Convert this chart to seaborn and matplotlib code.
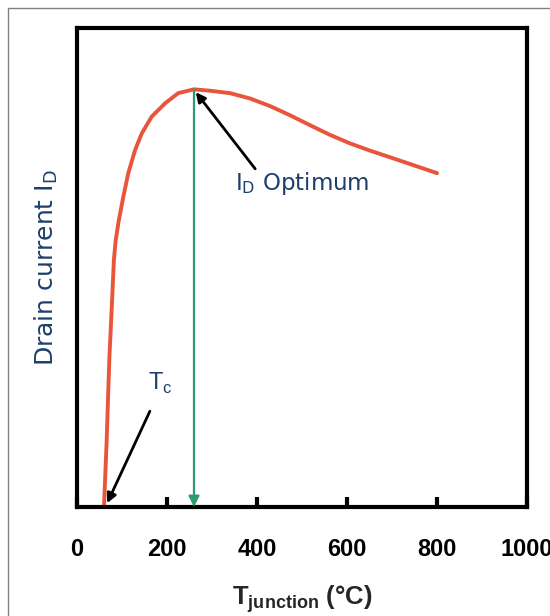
import matplotlib
matplotlib.use('Agg')
import matplotlib.pyplot as plt
from matplotlib.patches import Rectangle
import seaborn as sns
import pandas as pd

# values
temp = [60, 63, 66, 69, 72, 75, 78, 82, 86, 93, 103, 114, 129, 144, 166,
        196, 225, 260, 296, 340, 384, 429, 473, 518, 562, 607, 651, 696,
        740, 800]
current = [0.0, 0.07, 0.14, 0.228, 0.312, 0.372, 0.432, 0.516, 0.557, 0.599,
           0.648, 0.697, 0.745, 0.780, 0.815, 0.843, 0.864, 0.872, 0.869,
           0.864, 0.853, 0.837, 0.818, 0.797, 0.777, 0.759, 0.744, 0.730,
           0.716, 0.697]
xticks = [0, 200, 400, 600, 800, 1000]
t_opt = 260
i_opt = 0.872
t_c = 60

df = pd.DataFrame({'T': temp, 'I': current})

sns.set_style('white')
plt.rcParams['font.family'] = ['DejaVu Sans']

navy = '#1d3f6b'
red = '#e8553b'
green = '#2e9c6e'

fig = plt.figure(figsize=(5.5, 6.16), dpi=100)
ax = fig.add_axes([77/550, 1-507/616, 450/550, 479/616])

sns.lineplot(data=df, x='T', y='I', ax=ax, color=red, lw=2.8)

ax.annotate('', xy=(t_opt, 0), xytext=(t_opt, i_opt),
            arrowprops=dict(arrowstyle='-|>', color=green, lw=1.6,
                            mutation_scale=16, shrinkA=0, shrinkB=0))
ax.annotate('', xy=(264, 0.866), xytext=(396, 0.706),
            arrowprops=dict(arrowstyle='-|>', color='black', lw=2,
                            mutation_scale=14, shrinkA=0, shrinkB=0))
ax.annotate('', xy=(t_c + 7, 0.008), xytext=(162, 0.2),
            arrowprops=dict(arrowstyle='-|>', color='black', lw=2,
                            mutation_scale=14, shrinkA=0, shrinkB=0))

ax.text(351, 0.676, r'I$_\mathregular{D}$ Optimum', color=navy,
        fontsize=16.5, ha='left', va='center')
ax.text(184, 0.257, r'T$_\mathregular{c}$', color=navy,
        fontfamily='Liberation Sans', fontsize=17, ha='center', va='center')

ax.set_xlim(0, 1000)
ax.set_ylim(0, 1)
ax.set_xticks(xticks)
ax.set_xticklabels([str(t) for t in xticks], fontfamily='Liberation Sans',
                   fontweight='bold', fontsize=17)
ax.set_yticks([])
ax.tick_params(axis='x', direction='in', length=7, width=3, pad=22,
               colors='black', bottom=True)
for s in ax.spines.values():
    s.set_linewidth(3)
    s.set_color('black')

ax.set_xlabel(r'T$_\mathregular{junction}$ (°C)', fontfamily='Liberation Sans',
              fontweight='bold', fontsize=18.5, labelpad=16)
ax.set_ylabel(r'Drain current I$_\mathregular{D}$', color=navy, fontsize=18,
              labelpad=12)

fig.patches.append(Rectangle((8/550, -0.1), 1.2, 1.1 - 8/616,
                             transform=fig.transFigure, fill=False,
                             edgecolor='#808080', lw=1))

fig.savefig('out.png', dpi=100)
